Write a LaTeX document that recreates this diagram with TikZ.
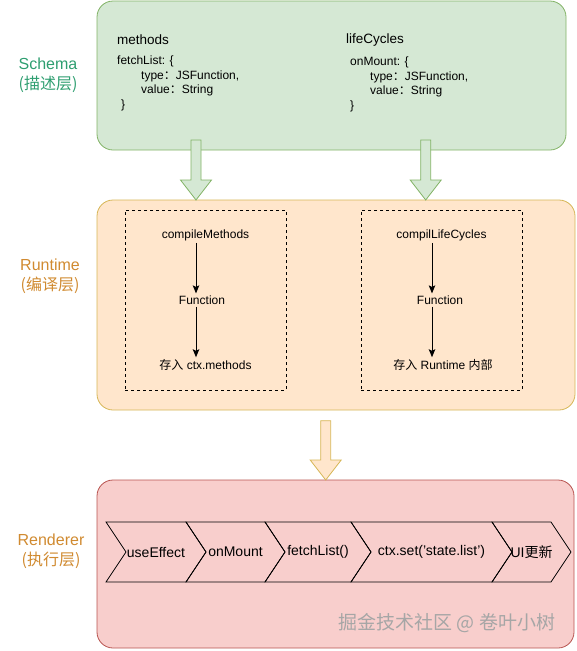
\documentclass[tikz,border=0pt]{standalone}
\usepackage{fontspec}
\setmainfont{Liberation Sans}
\newfontfamily\cjk{Noto Sans CJK SC}
\usepackage{tikz}
\usetikzlibrary{arrows.meta}
\usetikzlibrary{positioning}
\definecolor{schemafill}{HTML}{D5E8D4}
\definecolor{schemaline}{HTML}{82B366}
\definecolor{runfill}{HTML}{FFE6CC}
\definecolor{runline}{HTML}{D6B656}
\definecolor{renderfill}{HTML}{F8CECC}
\definecolor{renderline}{HTML}{B85450}
\definecolor{schematext}{HTML}{2E9E70}
\definecolor{layertext}{HTML}{D08A30}
\tikzset{layer/.style = {draw, rounded corners = 16, line width = 0.8}}
\tikzset{layername/.style = {align = center, font = \fontsize{16}{20}\selectfont}}
\tikzset{head/.style = {anchor = west, inner sep = 0, font = \fontsize{13.5}{16}\selectfont}}
\tikzset{code/.style = {anchor = north west, align = left, inner sep = 0, font = \fontsize{12}{14.5}\selectfont}}
\tikzset{dashbox/.style = {draw, dashed, line width = 0.8, minimum width = 161, minimum height = 180}}
\tikzset{stage/.style = {inner sep = 2, font = \fontsize{12}{14}\selectfont}}
\tikzset{flow/.style = {-{Stealth[length = 8pt, width = 6.5pt, inset = 1.5pt]}, line width = 1}}
\tikzset{chev/.style = {inner sep = 0, font = \fontsize{14}{16}\selectfont}}
\newcommand{\blockarrow}[4]{%
  \draw [#4, line width = 0.8] (#1-5, #2) -- (#1+5, #2) -- (#1+5, #3-20) -- (#1+15.5, #3-20)
    -- (#1, #3) -- (#1-15.5, #3-20) -- (#1-5, #3-20) -- cycle;}

\begin{document}
\begin{tikzpicture}[x = 1pt, y = -1pt]
    \useasboundingbox (0, 0) rectangle (576, 651);

    % layers
    \node [layer, fill = schemafill, draw = schemaline, minimum width = 469, minimum height = 149] (schema) at (331.5, 75.5) {};
    \node [layer, fill = runfill, draw = runline, minimum width = 478, minimum height = 210] (runtime) at (336, 305) {};
    \node [layer, fill = renderfill, draw = renderline, minimum width = 477, minimum height = 168] (renderer) at (335.5, 564) {};

    \node [layername, text = schematext] (schemaname) at (48, 75) {Schema\\{\cjk (描述层)}};
    \node [layername, text = layertext] (runtimename) at (50, 276) {Runtime\\{\cjk (编译层)}};
    \node [layername, text = layertext] (renderername) at (51, 551) {Renderer\\{\cjk (执行层)}};

    % schema
    \node [head] (methods) at (117, 40) {methods};
    \node [head] (lifecycles) at (346, 40) {lifeCycles};
    \node [code] (methodcode) at (117, 56) {fetchList: \{\\
        \hspace*{24pt}type{\cjk ：}JSFunction,\\
        \hspace*{24pt}value{\cjk ：}String\\
        \hspace*{4pt}\}};
    \node [code] (lifecode) at (350, 57) {onMount: \{\\
        \hspace*{20pt}type{\cjk ：}JSFunction,\\
        \hspace*{20pt}value{\cjk ：}String\\
        \}};

    \blockarrow{196}{140}{200}{fill = schemafill, draw = schemaline}
    \blockarrow{425.7}{140}{200}{fill = schemafill, draw = schemaline}

    % runtime
    \node [dashbox] (methodbox) at (205.5, 300) {};
    \node [dashbox] (lifebox) at (441.5, 300) {};
    \node [stage] (compile1) at (205.5, 235) {compileMethods};
    \node [stage] (func1) at (202, 300) {Function};
    \node [stage] (store1) at (205.5, 365) {{\cjk 存入} ctx.methods};
    \node [stage] (compile2) at (441.5, 235) {compilLifeCycles};
    \node [stage] (func2) at (440, 300) {Function};
    \node [stage] (store2) at (443, 365) {{\cjk 存入} Runtime {\cjk 内部}};
    \draw [flow] (compile1.south -| 196, 0) -- (func1.north -| 196, 0);
    \draw [flow] (func1.south -| 196, 0) -- (store1.north -| 196, 0);
    \draw [flow] (compile2.south -| 432, 0) -- (func2.north -| 432, 0);
    \draw [flow] (func2.south -| 432, 0) -- (store2.north -| 432, 0);

    \blockarrow{325.7}{420.7}{480}{fill = runfill, draw = runline}

    % renderer
    \foreach \a/\b/\t [count = \i] in {106/186/useEffect, 186/265/onMount, 265/351/fetchList(),
        351/492/ctx.set('state.list'), 492/551/UI{\cjk 更新}} {
      \draw [line width = 0.8] (\a, 522) -- (\b, 522) -- (\b+20, 552) -- (\b, 582) -- (\a, 582) -- (\a+20, 552) -- cycle;
      \node [chev] (step\i) at ({(\a+\b)/2+10}, 552) {\t};
    }
    \node [font = \cjk\fontsize{19}{20}\selectfont, text = black!35] (mark) at (447, 623) {掘金技术社区 @ 卷叶小树};
\end{tikzpicture}
\end{document}
